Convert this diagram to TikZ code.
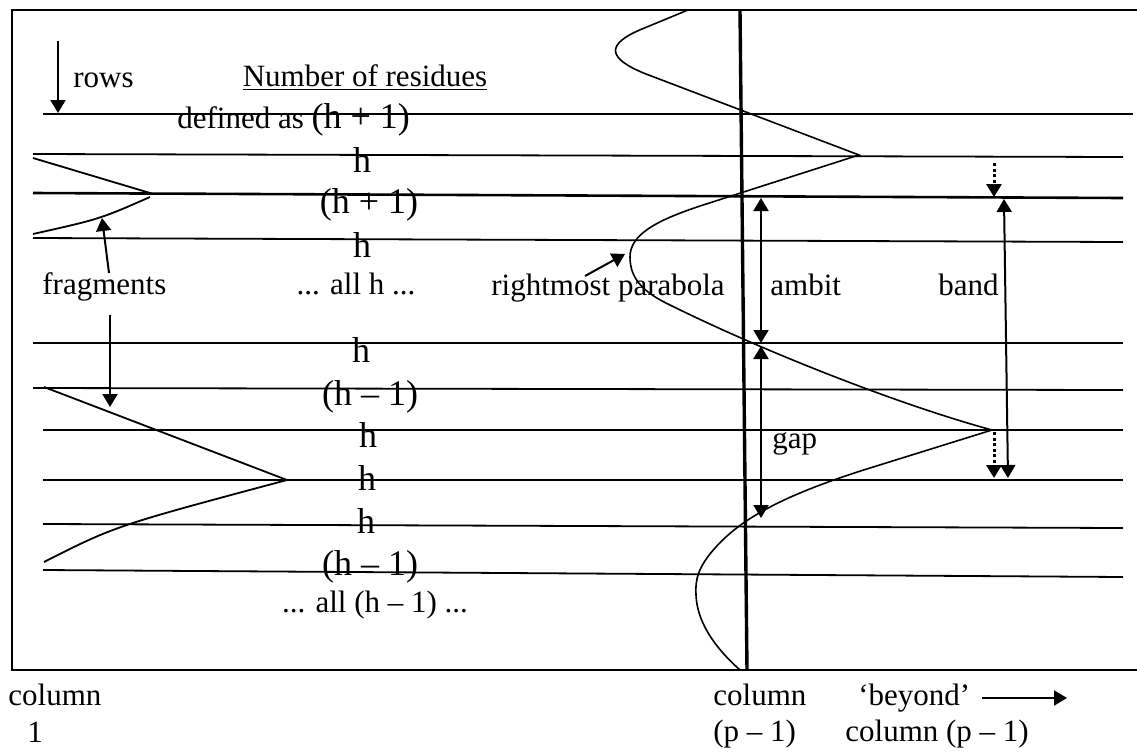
\documentclass[tikz,border=0pt]{standalone}
\usepackage{fontspec}
\setmainfont{Liberation Serif}
\usetikzlibrary{arrows.meta}

\begin{document}
\begin{tikzpicture}[
  x=0.5pt, y=-0.5pt,
  row/.style={line width=0.9pt},
  boldrow/.style={line width=1.3pt},
  frag/.style={line width=0.9pt},
  curve/.style={line width=0.8pt},
  pointer/.style={line width=1pt, -{Triangle[length=6.5pt, width=7.5pt]}},
  both/.style={line width=1pt,
               {Triangle[length=6.5pt, width=7.5pt]}-{Triangle[length=6.5pt, width=7.5pt]}},
  dotarrow/.style={line width=1.5pt, dash pattern=on 1.5pt off 1.3pt,
                   -{Triangle[length=6.5pt, width=7.5pt]}},
  txt/.style={inner sep=0pt, font=\fontsize{15.5}{18}\selectfont},
  hval/.style={inner sep=0pt, anchor=base, font=\fontsize{18}{21}\selectfont},
]
  \useasboundingbox (0,0) rectangle (1137,751);

  % Frame (open to the right)
  \draw[line width=1pt] (1137,10) -| (12,670) -- (1137,670);

  % Rows
  \foreach \xa/\ya/\xb/\yb in {43/114/1133/114, 33/154/1123/157, 33/238/1123/242,
      33/343/1123/343, 33/388/1123/390, 43/430/1123/430, 43/524/1123/528,
      43/570/1123/577} {
    \draw[row] (\xa,\ya) -- (\xb,\yb);
  }
  \draw[boldrow] (33,193) -- (1123,198);
  \draw[boldrow] (43,480) -- (1123,480);

  % Column (p - 1)
  \draw[line width=1.7pt] (740,10) -- (747,670);

  % Fragments at column 1
  \draw[frag] (33,158) -- (150,193);
  \draw[frag] (150,197) .. controls (100,219) .. (33,234);
  \draw[frag] (44,387) -- (287,480);
  \draw[frag] (287,480) .. controls (115,526) .. (44,562);

  % Rightmost parabola
  \draw[curve] (688,10) -- (642,29) .. controls (606,44) and (606,58) .. (646,74)
    -- (859,155) -- (700,206) .. controls (655,221) and (630,235) .. (630,257)
    .. controls (630,280) and (645,293) .. (670,305)
    .. controls (765,352) and (900,405) .. (992,430)
    -- (870,468) .. controls (780,496) and (740,520) .. (715,548)
    .. controls (698,567) and (695,580) .. (696,595)
    .. controls (697,620) and (712,645) .. (740,670);

  % Labels
  \node[txt, anchor=base west] (rows) at (73,87) {rows};
  \node[txt, anchor=base] (title) at (365,86) {\underline{Number of residues}};
  \node[txt, anchor=base west] (defd) at (177,128)
    {defined as {\fontsize{18}{21}\selectfont(h + 1)}};
  \node[hval] (r2) at (362,172) {h};
  \node[hval] (r3) at (369,213) {(h + 1)};
  \node[hval] (r4) at (362,257) {h};
  \node[txt, anchor=base] (allh) at (356,294) {... all h ...};
  \node[hval] (r5) at (361,362) {h};
  \node[hval] (r6) at (370,405) {(h – 1)};
  \node[hval] (r7) at (368,447) {h};
  \node[hval] (r8) at (367,490) {h};
  \node[hval] (r9) at (366,533) {h};
  \node[hval] (r10) at (370,575) {(h – 1)};
  \node[txt, anchor=base] (allhm) at (375,612) {... all (h – 1) ...};

  \node[txt, anchor=base west] (fragments) at (42,294) {fragments};
  \node[txt, anchor=base west] (rightmost) at (491,295) {rightmost parabola};
  \node[txt, anchor=base west] (ambit) at (770,295) {ambit};
  \node[txt, anchor=base west] (band) at (938,295) {band};
  \node[txt, anchor=base west] (gap) at (772,448) {gap};

  \node[txt, anchor=base west] (colone) at (8,705) {column};
  \node[txt, anchor=base west] (colonenum) at (27,742) {1};
  \node[txt, anchor=base west] (colp) at (713,705) {column};
  \node[txt, anchor=base west] (colpnum) at (713,741) {(p – 1)};
  \node[txt, anchor=base west] (beyond) at (858,705) {‘beyond’};
  \node[txt, anchor=base west] (beyondcol) at (845,741) {column (p – 1)};

  % Arrow ends
  \coordinate (rowstail) at (58,41);
  \coordinate (rowstip) at (58,113);
  \coordinate (fragup) at (109,273);
  \coordinate (fragsmall) at (102,218);
  \coordinate (fragdown) at (110,315);
  \coordinate (fragbig) at (110,407);
  \coordinate (rmtail) at (585,276);
  \coordinate (rmtip) at (625,254);
  \coordinate (ambittop) at (761,198);
  \coordinate (ambitbot) at (761,343);
  \coordinate (gaptop) at (761,346);
  \coordinate (gapbot) at (761,518);
  \coordinate (bandtop) at (1004,199);
  \coordinate (bandbot) at (1008,478);
  \coordinate (dotatail) at (994,163);
  \coordinate (dotatip) at (994,197);
  \coordinate (dotbtail) at (994,432);
  \coordinate (dotbtip) at (994,478);
  \coordinate (beyondtail) at (982,698);
  \coordinate (beyondtip) at (1067,698);

  % Arrows
  \draw[pointer] (rowstail) -- (rowstip);
  \draw[pointer] (fragup) -- (fragsmall);
  \draw[pointer] (fragdown) -- (fragbig);
  \draw[pointer] (rmtail) -- (rmtip);
  \draw[both] (ambittop) -- (ambitbot);
  \draw[both] (gaptop) -- (gapbot);
  \draw[both] (bandtop) -- (bandbot);
  \draw[dotarrow] (dotatail) -- (dotatip);
  \draw[dotarrow] (dotbtail) -- (dotbtip);
  \draw[pointer] (beyondtail) -- (beyondtip);

\end{tikzpicture}
\end{document}
